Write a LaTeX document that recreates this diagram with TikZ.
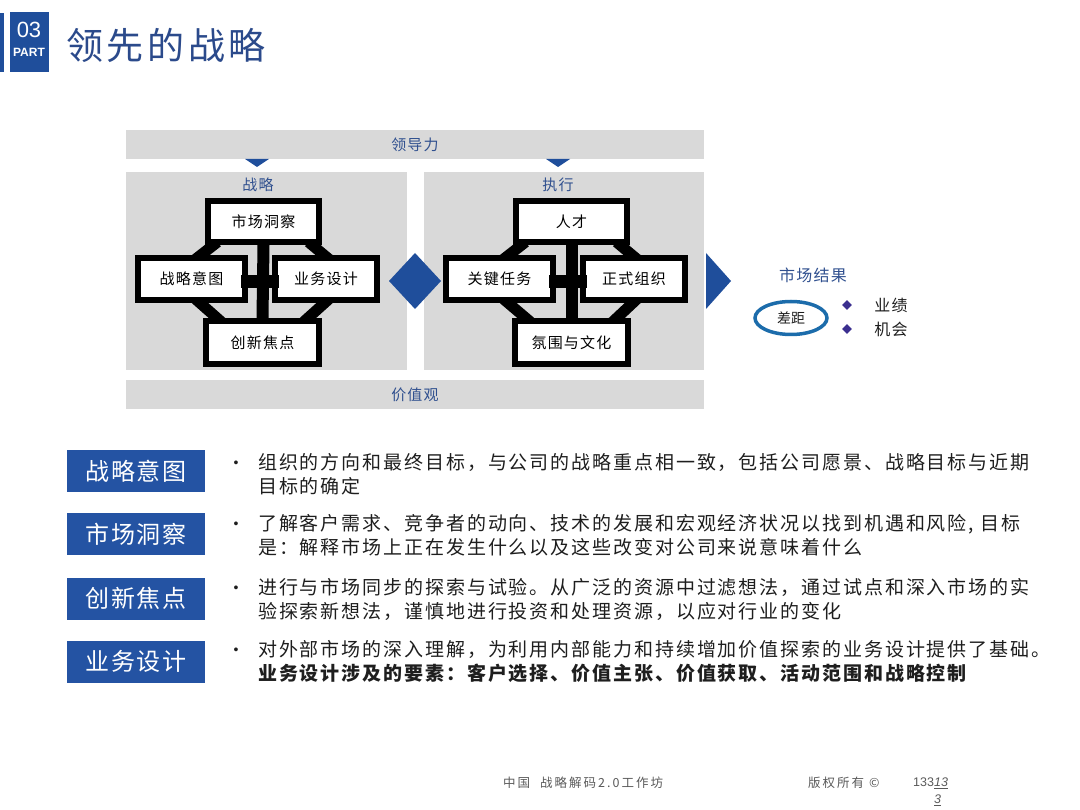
\documentclass[tikz,border=0pt]{standalone}
\usepackage{fontspec}
\setmainfont{Liberation Sans}
\newfontfamily\cjk{Noto Sans CJK SC}
\newfontfamily\cjkbox[LetterSpace=8]{Noto Sans CJK SC}
\newfontfamily\cjkbody[LetterSpace=10]{Noto Sans CJK SC}
\newfontfamily\cjktitle[LetterSpace=10]{Noto Sans CJK SC}
\newfontfamily\cjkfoot[LetterSpace=16]{Noto Sans CJK SC}
\usetikzlibrary{shapes.geometric,backgrounds,calc}

\definecolor{panelgray}{HTML}{D9D9D9}
\definecolor{darkblue}{HTML}{1F4E9B}
\definecolor{tagblue}{HTML}{2453A3}
\definecolor{titleblue}{HTML}{2B4A8B}
\definecolor{labelblue}{HTML}{30508F}
\definecolor{ringblue}{HTML}{1C6CAB}
\definecolor{dotpurple}{HTML}{3B2F8F}
\definecolor{bodytext}{HTML}{1E1E1E}
\definecolor{foottext}{HTML}{595959}

\tikzset{
  bar/.style={fill=panelgray, inner sep=0pt, minimum width=578pt, minimum height=29pt,
    text=labelblue, font=\cjkbox\fontsize{15}{17}\selectfont},
  panel/.style={fill=panelgray, inner sep=0pt, minimum height=198pt},
  panellabel/.style={text=labelblue, font=\cjkbox\fontsize{15}{17}\selectfont},
  frame/.style={draw=black, line width=6pt, fill=white, inner sep=0pt,
    font=\cjkbox\fontsize{15}{17}\selectfont},
  band/.style={line width=11pt, black},
  tag/.style={fill=tagblue, text=white, inner sep=0pt, minimum width=138pt,
    minimum height=42pt, font=\cjkbox\fontsize{24}{26}\selectfont},
  dot/.style={text=bodytext, font=\fontsize{14}{16}\selectfont},
  para/.style={anchor=north west, inner sep=0pt, align=left, text=bodytext,
    font=\cjkbody\fontsize{19}{24.5}\selectfont},
  foot/.style={anchor=west, inner sep=0pt, text=foottext, font=\cjkfoot\fontsize{12.5}{14}\selectfont}
}

\begin{document}
\begin{tikzpicture}[x=1pt,y=-1pt]
\useasboundingbox (0,0) rectangle (1080,810);

\fill[darkblue] (0,13) rectangle (4,72);
\node[fill=darkblue, minimum width=39pt, minimum height=60pt, inner sep=0pt] (part) at (29,42) {};
\node[text=white, font=\fontsize{22}{22}\selectfont] (partnum) at (29,30) {03};
\node[text=white, font=\bfseries\fontsize{12}{12}\selectfont] (partword) at (29,52) {PART};
\node[anchor=west, inner sep=0pt, text=titleblue, font=\cjktitle\fontsize{37}{39}\selectfont] (title) at (66,45) {领先的战略};

\begin{scope}[on background layer]
\node[panel, minimum width=281pt] (stratpanel) at (266.5,271) {};
\node[panel, minimum width=280pt] (execpanel) at (564,271) {};
\end{scope}

\node[bar] (lead) at (415,144.5) {领导力};
\node[bar] (values) at (415,394.5) {价值观};
\fill[darkblue] (245,159) -- (269,159) -- (257,167) -- cycle;
\fill[darkblue] (546,159) -- (570,159) -- (558,167) -- cycle;

\node[panellabel] (stratlbl) at (258,185) {战略};
\node[panellabel] (execlbl) at (558,185) {执行};

\node[frame, minimum width=111pt, minimum height=41pt] (mi) at (263.5,221.5) {市场洞察};
\node[frame, minimum width=107pt, minimum height=42pt] (si) at (191.5,279) {战略意图};
\node[frame, minimum width=102pt, minimum height=42pt] (bd) at (326,279) {业务设计};
\node[frame, minimum width=113pt, minimum height=43pt] (inn) at (262.5,342.5) {创新焦点};

\node[frame, minimum width=111pt, minimum height=41pt] (tal) at (571.5,221.5) {人才};
\node[frame, minimum width=107pt, minimum height=42pt] (kt) at (499.5,279) {关键任务};
\node[frame, minimum width=102pt, minimum height=42pt] (fo) at (634,279) {正式组织};
\node[frame, minimum width=113pt, minimum height=43pt] (cc) at (571.5,342.5) {氛围与文化};

\begin{scope}[on background layer]
\draw[band, line width=12pt] (mi.south) -- (inn.north);
\draw[band] ($(mi.south)+(-46,-3)$) -- ($(si.north)+(3,5)$);
\draw[band] ($(mi.south)+(45,-3)$) -- ($(bd.north)+(4,5)$);
\draw[band] ($(si.south)+(4,-4)$) -- ($(inn.north)+(-41,4)$);
\draw[band] ($(bd.south)+(3,-4)$) -- ($(inn.north)+(41,4)$);
\draw[band, line width=12pt] (tal.south) -- (cc.north);
\draw[band] ($(tal.south)+(-46,-3)$) -- ($(kt.north)+(3,5)$);
\draw[band] ($(tal.south)+(45,-3)$) -- ($(fo.north)+(4,5)$);
\draw[band] ($(kt.south)+(4,-4)$) -- ($(cc.north)+(-41,4)$);
\draw[band] ($(fo.south)+(3,-4)$) -- ($(cc.north)+(41,4)$);
\end{scope}
\draw[band, line width=13pt] ($(si.east)+(-7,2.5)$) -- ($(bd.west)+(7,2.5)$);
\draw[band, line width=13pt] ($(kt.east)+(-7,2.5)$) -- ($(fo.west)+(7,2.5)$);

\fill[darkblue] (389,281) -- (415,253) -- (441,281) -- (415,309) -- cycle;
\fill[darkblue] (706,253) -- (731,281) -- (706,309) -- cycle;

\node[text=labelblue, font=\cjkbox\fontsize{16}{18}\selectfont] (result) at (813,275) {市场结果};
\node[ellipse, draw=ringblue, line width=3.5pt, minimum width=72pt, minimum height=33pt,
  inner sep=0pt, text=bodytext, font=\cjk\fontsize{14}{16}\selectfont] (gap) at (791,318) {差距};
\node[diamond, fill=dotpurple, minimum size=10pt, inner sep=0pt] (d1) at (847,305) {};
\node[diamond, fill=dotpurple, minimum size=10pt, inner sep=0pt] (d2) at (847,329) {};
\node[text=bodytext, font=\cjkbox\fontsize{16}{18}\selectfont] (perf) at (891,305) {业绩};
\node[text=bodytext, font=\cjkbox\fontsize{16}{18}\selectfont] (chance) at (891,329) {机会};

\node[tag] (t1) at (136,471) {战略意图};
\node[tag] (t2) at (136,534) {市场洞察};
\node[tag] (t3) at (136,598.5) {创新焦点};
\node[tag] (t4) at (136,661.5) {业务设计};

\node[dot] (b1) at (236,464) {•};
\node[dot] (b2) at (236,525) {•};
\node[dot] (b3) at (236,589) {•};
\node[dot] (b4) at (236,651) {•};

\node[para] (p1) at (258,453) {组织的方向和最终目标，与公司的战略重点相一致，包括公司愿景、战略目标与近期\\目标的确定};
\node[para] (p2) at (258,514) {了解客户需求、竞争者的动向、技术的发展和宏观经济状况以找到机遇和风险, 目标\\是：解释市场上正在发生什么以及这些改变对公司来说意味着什么};
\node[para] (p3) at (258,578) {进行与市场同步的探索与试验。从广泛的资源中过滤想法，通过试点和深入市场的实\\验探索新想法，谨慎地进行投资和处理资源，以应对行业的变化};
\node[para] (p4) at (258,640) {对外部市场的深入理解，为利用内部能力和持续增加价值探索的业务设计提供了基础。\\{\bfseries 业务设计涉及的要素：客户选择、价值主张、价值获取、活动范围和战略控制}};

\node[foot] (f1) at (503,783) {中国\hspace{10pt}战略解码2.0工作坊};
\node[foot] (f2) at (808,783) {版权所有 ©};
\node[foot, font=\fontsize{12.5}{14}\selectfont] (f3) at (913,783) {133\underline{\textit{13}}};
\node[foot, font=\fontsize{12.5}{14}\selectfont] (f4) at (934,800) {\underline{\textit{3}}};
\end{tikzpicture}
\end{document}
